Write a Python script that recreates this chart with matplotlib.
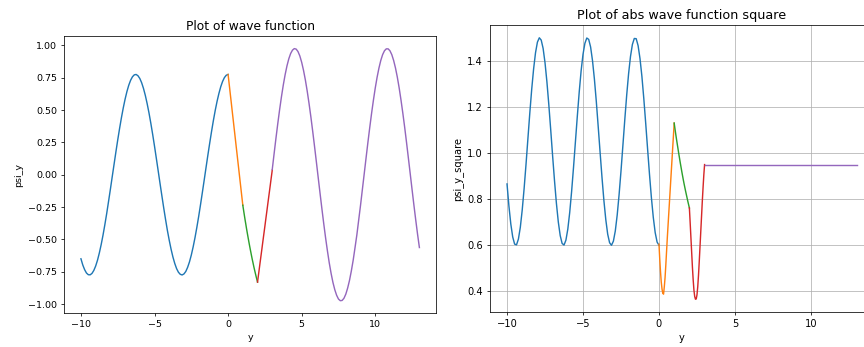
import numpy as np
import matplotlib
matplotlib.use("Agg")
import matplotlib.pyplot as plt

# sample positions for each region of the potential
y_left = np.linspace(-10, 0, 81)
y_well1 = np.linspace(0, 1, 21)
y_well2 = np.linspace(1, 2, 21)
y_well3 = np.linspace(2, 3, 21)
y_right = np.linspace(3, 13, 81)

# real part of psi, region by region
psi_left = [-0.650, -0.698, -0.734, -0.760, -0.773, -0.774, -0.763, -0.740, -0.706,
            -0.661, -0.605, -0.540, -0.467, -0.386, -0.300, -0.207, -0.113, -0.016,
            0.080, 0.176, 0.269, 0.357, 0.440, 0.516, 0.584, 0.643, 0.692, 0.730,
            0.757, 0.772, 0.775, 0.765, 0.744, 0.711, 0.667, 0.613, 0.549, 0.477,
            0.397, 0.311, 0.220, 0.125, 0.029, -0.068, -0.163, -0.257, -0.346,
            -0.431, -0.507, -0.576, -0.636, -0.686, -0.726, -0.754, -0.770, -0.775,
            -0.767, -0.748, -0.716, -0.674, -0.621, -0.558, -0.487, -0.408, -0.323,
            -0.232, -0.138, -0.042, 0.055, 0.151, 0.244, 0.334, 0.419, 0.497, 0.567,
            0.628, 0.680, 0.721, 0.751, 0.769, 0.775]
psi_well1 = [0.775, 0.724, 0.674, 0.623, 0.573, 0.522, 0.471, 0.421, 0.370, 0.320,
             0.269, 0.218, 0.168, 0.117, 0.067, 0.016, -0.035, -0.085, -0.136,
             -0.186, -0.236]
psi_well2 = [-0.236, -0.273, -0.310, -0.346, -0.380, -0.415, -0.448, -0.480, -0.512,
             -0.543, -0.573, -0.602, -0.631, -0.659, -0.685, -0.712, -0.737, -0.761,
             -0.785, -0.808, -0.830]
psi_well3 = [-0.830, -0.787, -0.744, -0.700, -0.657, -0.614, -0.571, -0.527, -0.484,
             -0.441, -0.398, -0.354, -0.311, -0.268, -0.224, -0.181, -0.138, -0.095,
             -0.051, -0.008, 0.035]
psi_right = [0.040, 0.161, 0.280, 0.394, 0.502, 0.602, 0.693, 0.773, 0.841, 0.896,
             0.937, 0.963, 0.975, 0.971, 0.952, 0.918, 0.869, 0.807, 0.733, 0.647,
             0.551, 0.447, 0.335, 0.218, 0.098, -0.024, -0.145, -0.264, -0.379,
             -0.488, -0.589, -0.682, -0.763, -0.833, -0.889, -0.932, -0.961, -0.974,
             -0.972, -0.955, -0.923, -0.876, -0.817, -0.744, -0.661, -0.564, -0.465,
             -0.350, -0.236, -0.114, 0.007, 0.129, 0.249, 0.364, 0.474, 0.576, 0.670,
             0.753, 0.824, 0.883, 0.928, 0.958, 0.973, 0.973, 0.958, 0.928, 0.883,
             0.825, 0.754, 0.671, 0.577, 0.475, 0.366, 0.250, 0.130, 0.009, -0.113,
             -0.233, -0.349, -0.460, -0.563]

# |psi|^2, region by region
sq_left = [0.866, 0.770, 0.692, 0.636, 0.605, 0.602, 0.627, 0.678, 0.753, 0.846,
           0.951, 1.063, 1.174, 1.277, 1.365, 1.435, 1.481, 1.500, 1.490, 1.454,
           1.392, 1.309, 1.210, 1.101, 0.988, 0.880, 0.782, 0.701, 0.642, 0.608,
           0.601, 0.622, 0.670, 0.742, 0.833, 0.937, 1.048, 1.159, 1.264, 1.356,
           1.428, 1.476, 1.499, 1.493, 1.460, 1.401, 1.321, 1.224, 1.115, 1.003,
           0.894, 0.794, 0.711, 0.648, 0.611, 0.600, 0.618, 0.662, 0.731, 0.820,
           0.922, 1.033, 1.145, 1.251, 1.344, 1.419, 1.471, 1.497, 1.496, 1.466,
           1.410, 1.333, 1.237, 1.130, 1.018, 0.908, 0.807, 0.721, 0.655, 0.614, 0.600]
sq_well1 = [0.605, 0.540, 0.485, 0.440, 0.410, 0.392, 0.388, 0.420, 0.460, 0.515,
            0.575, 0.635, 0.690, 0.745, 0.800, 0.855, 0.910, 0.965, 1.020, 1.075, 1.130]
sq_well2 = [1.130, 1.106, 1.083, 1.061, 1.040, 1.019, 0.998, 0.978, 0.958, 0.939,
            0.920, 0.902, 0.884, 0.867, 0.851, 0.835, 0.820, 0.805, 0.790, 0.776, 0.762]
sq_well3 = [0.762, 0.700, 0.635, 0.570, 0.505, 0.450, 0.405, 0.378, 0.366, 0.367,
            0.385, 0.420, 0.470, 0.530, 0.595, 0.660, 0.725, 0.790, 0.850, 0.905, 0.950]
y_trans = [3, 13]
sq_right = [0.95, 0.95]

regions = [(y_left, psi_left, sq_left),
           (y_well1, psi_well1, sq_well1),
           (y_well2, psi_well2, sq_well2),
           (y_well3, psi_well3, sq_well3)]

fig = plt.figure(figsize=(864 / 68, 347 / 68), dpi=68)
ax1 = fig.add_axes([0.0741, 0.0971, 0.4309, 0.7992])
ax2 = fig.add_axes([0.5666, 0.1000, 0.4450, 0.8288])

for y, psi, sq in regions:
    ax1.plot(y, psi)
    ax2.plot(y, sq)
ax1.plot(y_right, psi_right)
ax2.plot(y_trans, sq_right)

ax1.set_title("Plot of wave function", fontsize=13)
ax1.set_xlabel("y")
ax1.set_ylabel("psi_y", labelpad=6)

ax2.set_title("Plot of abs wave function square", fontsize=13.5)
ax2.set_xlabel("y", fontsize=10.5)
ax2.set_ylabel("psi_y_square", fontsize=10.5)
ax2.tick_params(labelsize=10.5)
ax2.grid(True)

fig.savefig("out.png", dpi=68)
